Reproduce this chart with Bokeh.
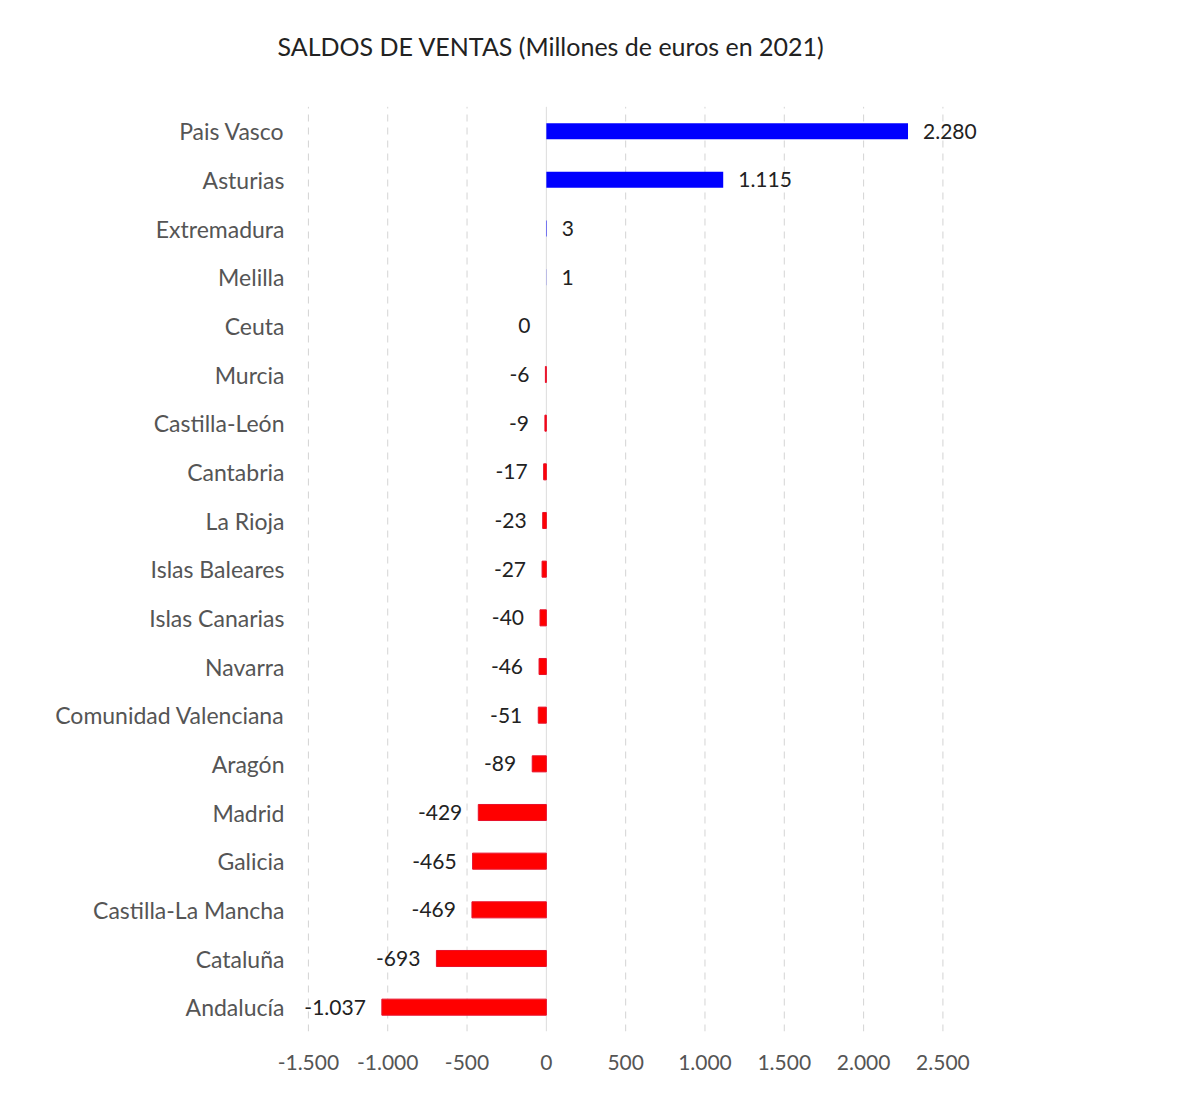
from bokeh.plotting import figure
from bokeh.models import ColumnDataSource, FactorRange, Range1d, FixedTicker, LabelSet, Label
from bokeh.core.properties import value
from bokeh.embed import file_html
from bokeh.resources import INLINE

regions = ["Pais Vasco", "Asturias", "Extremadura", "Melilla", "Ceuta", "Murcia",
           "Castilla-León", "Cantabria", "La Rioja", "Islas Baleares", "Islas Canarias",
           "Navarra", "Comunidad Valenciana", "Aragón", "Madrid", "Galicia",
           "Castilla-La Mancha", "Cataluña", "Andalucía"]
saldos = [2280, 1115, 3, 1, 0, -6, -9, -17, -23, -27, -40, -46, -51, -89,
          -429, -465, -469, -693, -1037]
tick_values = [-1500, -1000, -500, 0, 500, 1000, 1500, 2000, 2500]
tick_labels = ["-1.500", "-1.000", "-500", "0", "500", "1.000", "1.500", "2.000", "2.500"]
title_text = "SALDOS DE VENTAS (Millones de euros en 2021)"

FONT = "Lato"

def fmt(v):
    s = f"{abs(v):,}".replace(",", ".")
    return ("-" if v < 0 else "") + s

pos_idx = [i for i, v in enumerate(saldos) if v > 0]
neg_idx = [i for i, v in enumerate(saldos) if v <= 0]
negbar_idx = [i for i, v in enumerate(saldos) if v < 0]
n = len(regions)

src_pos = ColumnDataSource(dict(
    region=[regions[i] for i in pos_idx],
    val=[saldos[i] for i in pos_idx],
    lab=[fmt(saldos[i]) for i in pos_idx],
))
src_neg = ColumnDataSource(dict(
    region=[regions[i] for i in neg_idx],
    val=[saldos[i] for i in neg_idx],
    lab=[fmt(saldos[i]) for i in neg_idx],
))
src_negbar = ColumnDataSource(dict(
    region=[regions[i] for i in negbar_idx],
    val=[saldos[i] for i in negbar_idx],
))
src_names = ColumnDataSource(dict(
    region=regions,
    xpos=[-1550] * n,
))
grid_ticks = [t for t in tick_values if t != 0]
src_grid = ColumnDataSource(dict(
    x=grid_ticks, y0=[0] * len(grid_ticks), y1=[n] * len(grid_ticks),
))

# two empty factors on top leave room for the title inside the frame
factors = list(reversed(regions)) + [" ", "  "]

p = figure(width=1018, height=1101, output_backend="svg", toolbar_location=None,
           y_range=FactorRange(factors=factors, range_padding=0),
           x_range=Range1d(-3315, 2800),
           min_border_left=20, min_border_right=28, min_border_top=9,
           min_border_bottom=70)
p.outline_line_color = None
p.background_fill_color = "white"
p.border_fill_color = "white"

# dashed vertical gridlines and solid zero line
p.segment(x0="x", x1="x", y0="y0", y1="y1", source=src_grid,
          line_color="#d4d4d4", line_dash="7 6", line_width=1)
p.segment(x0=[0], x1=[0], y0=[0], y1=[n], line_color="#dcdcdc", line_width=1)

p.hbar(y="region", left=0, right="val", height=0.33, source=src_pos,
       fill_color="#0000FF", line_color=None)
p.hbar(y="region", left=0, right="val", height=0.33, source=src_negbar,
       fill_color="#FF0000", line_color="#E8102A", line_width=1)

p.add_layout(Label(x=-1695, y=n + 1.24, text=title_text,
                   text_align="left", text_baseline="middle",
                   text_font=FONT, text_font_size="25px", text_color="#222222"))

p.add_layout(LabelSet(x="xpos", y="region", text="region", source=src_names,
                      x_offset=-16, text_align="right", text_baseline="middle",
                      text_font=value(FONT), text_font_size="23px", text_color="#555555"))

p.add_layout(LabelSet(x="val", y="region", text="lab", source=src_pos,
                      x_offset=15, text_align="left", text_baseline="middle",
                      text_font=value(FONT), text_font_size="21px", text_color="#222222"))
p.add_layout(LabelSet(x="val", y="region", text="lab", source=src_neg,
                      x_offset=-16, text_align="right", text_baseline="middle",
                      text_font=value(FONT), text_font_size="21px", text_color="#222222"))

p.xaxis.ticker = FixedTicker(ticks=tick_values)
p.xaxis.major_label_overrides = {v: l for v, l in zip(tick_values, tick_labels)}
p.xaxis.axis_line_color = None
p.xaxis.major_tick_line_color = None
p.xaxis.minor_tick_line_color = None
p.xaxis.major_label_text_font = FONT
p.xaxis.major_label_text_color = "#555555"
p.xaxis.major_label_text_font_size = "21px"
p.xaxis.major_label_standoff = 17
p.yaxis.visible = False

p.xgrid.visible = False
p.ygrid.visible = False

open("out.html", "w").write(file_html(p, INLINE))
